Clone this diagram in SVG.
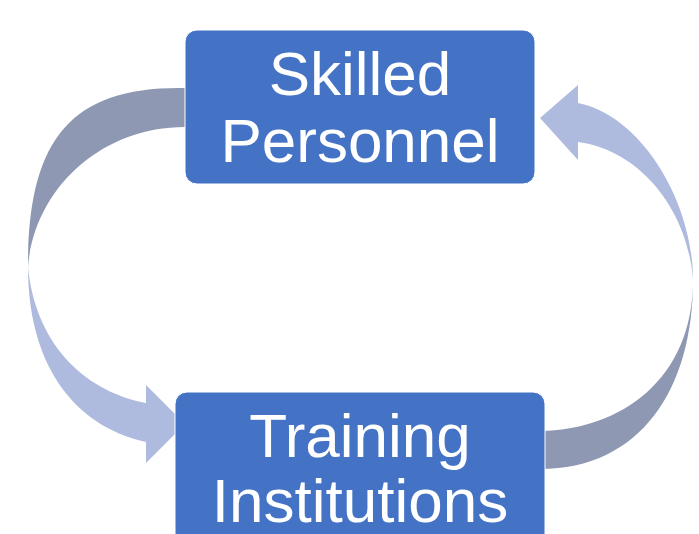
<svg xmlns="http://www.w3.org/2000/svg" width="699" height="534" viewBox="0 0 699 534">
<style>
.dark{fill:#8E98B2}
.light{fill:#AEBBDE}
.box{fill:#4472C4;stroke:#FFFFFF;stroke-width:1}
.lbl{font-family:"Liberation Sans",Arial,sans-serif;font-size:62px;fill:#FFFFFF;text-anchor:middle}
</style>
<rect width="699" height="534" fill="#FFFFFF"/>
<g id="connectors">
<path class="dark" d="M185,88 C70,86 28,140 28,267 C34,190 100,127 185,127 Z"/>
<path class="light" d="M28,267 C35,340 80,390 146,403 L146,385 L185,424 L146,463 L146,442 C70,425 28,360 28,267 Z"/>
<path class="dark" d="M540,469 C640,469 693,390 693,280 C693,380 620,430 540,431 Z"/>
<path class="light" d="M693,280 C688,210 640,150 578,142 L578,160 L540,118 L578,85 L578,103 C640,115 693,200 693,280 Z"/>
</g>
<g id="skilled-personnel">
<rect class="box" x="185" y="30" width="350" height="154" rx="12"/>
<text class="lbl" x="360" y="95">Skilled</text>
<text class="lbl" x="360" y="162">Personnel</text>
</g>
<g id="training-institutions">
<rect class="box" x="175" y="392" width="370" height="170" rx="12"/>
<text class="lbl" x="360" y="457">Training</text>
<text class="lbl" x="360" y="522">Institutions</text>
</g>
</svg>
